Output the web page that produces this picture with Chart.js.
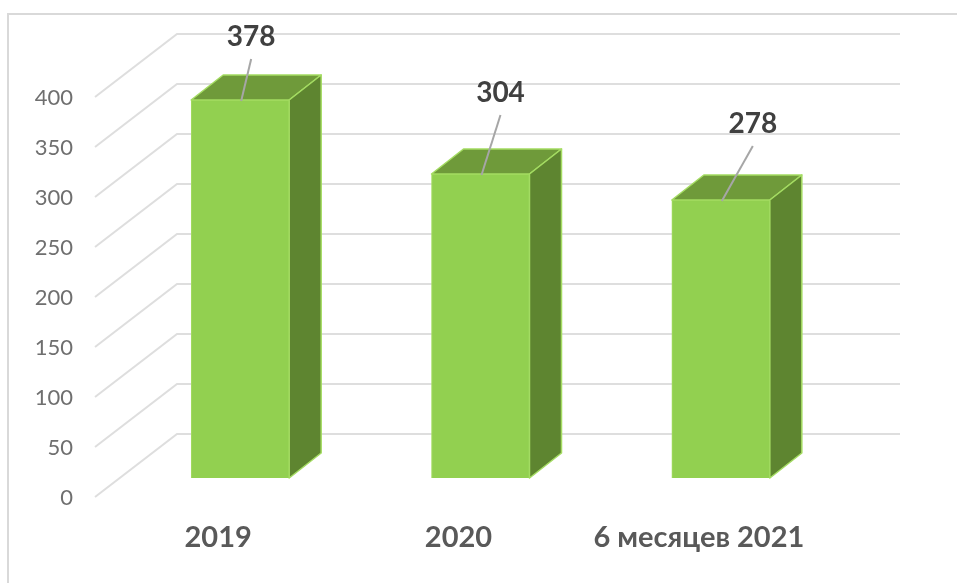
<!DOCTYPE html>
<html>
<head>
<meta charset="utf-8">
<style>
    html, body { margin: 0; padding: 0; background: #fff; }
    canvas { display: block; }
</style>
<script src="https://cdn.jsdelivr.net/npm/chart.js@4"></script>
</head>
<body>
<canvas id="grafico" width="957" height="583"></canvas>
<script>
const categorias = ['2019', '2020', '6 месяцев 2021'];
const valores = [378, 304, 278];
const ticksY = [0, 50, 100, 150, 200, 250, 300, 350, 400];

// Profundidad del falso 3D
const barDepth = { x: 32, y: -25 };
const wallBack = { x: 57, y: -44 };
const wallFront = { x: -25, y: 19 };
const wallRight = 900;
// Posicion de cada etiqueta respecto al centro de la cara superior de la barra
const labelShift = [[11, -63], [20, -81], [32, -76]];

const plugin3d = {
    id: 'plugin3d',
    beforeDraw(chart) {
        const ctx = chart.ctx;
        ctx.save();
        ctx.fillStyle = '#fff';
        ctx.fillRect(0, 0, chart.width, chart.height);
        // Marco
        ctx.strokeStyle = '#d9d9d9';
        ctx.lineWidth = 2;
        ctx.beginPath();
        ctx.moveTo(8, chart.height);
        ctx.lineTo(8, 14);
        ctx.lineTo(chart.width, 14);
        ctx.stroke();
        ctx.restore();
    },
    beforeDatasetsDraw(chart) {
        const ctx = chart.ctx;
        const y = chart.scales.y;
        const left = chart.chartArea.left;
        ctx.save();
        // Lineas de la pared
        ctx.strokeStyle = '#dedede';
        ctx.lineWidth = 2;
        ticksY.forEach(v => {
            const py = y.getPixelForValue(v);
            ctx.beginPath();
            ctx.moveTo(left + wallFront.x, py + wallFront.y);
            ctx.lineTo(left + wallBack.x, py + wallBack.y);
            ctx.lineTo(wallRight, py + wallBack.y);
            ctx.stroke();
        });
        // Caras superior y lateral
        chart.getDatasetMeta(0).data.forEach(bar => {
            const l = bar.x - bar.width / 2;
            const r = bar.x + bar.width / 2;
            ctx.lineWidth = 1.5;
            ctx.strokeStyle = '#a4dc62';
            ctx.lineJoin = 'round';

            ctx.fillStyle = '#6f9a3a';
            ctx.beginPath();
            ctx.moveTo(l, bar.y);
            ctx.lineTo(l + barDepth.x, bar.y + barDepth.y);
            ctx.lineTo(r + barDepth.x, bar.y + barDepth.y);
            ctx.lineTo(r, bar.y);
            ctx.closePath();
            ctx.fill();
            ctx.stroke();

            ctx.fillStyle = '#5e8530';
            ctx.beginPath();
            ctx.moveTo(r, bar.y);
            ctx.lineTo(r + barDepth.x, bar.y + barDepth.y);
            ctx.lineTo(r + barDepth.x, bar.base + barDepth.y);
            ctx.lineTo(r, bar.base);
            ctx.closePath();
            ctx.fill();
            ctx.stroke();
        });
        ctx.restore();
    },
    afterDatasetsDraw(chart) {
        const ctx = chart.ctx;
        ctx.save();
        chart.getDatasetMeta(0).data.forEach((bar, i) => {
            const tx = bar.x + labelShift[i][0];
            const ty = bar.y + labelShift[i][1];
            // Linea guia
            ctx.strokeStyle = '#a6a6a6';
            ctx.lineWidth = 2;
            ctx.beginPath();
            ctx.moveTo(bar.x + 1, bar.y + 1);
            ctx.lineTo(tx, ty + 22);
            ctx.stroke();

            ctx.fillStyle = '#404040';
            ctx.font = 'bold 28px Lato';
            ctx.textAlign = 'center';
            ctx.textBaseline = 'middle';
            ctx.fillText(String(valores[i]), tx, ty);
        });
        ctx.restore();
    }
};

new Chart(document.getElementById('grafico'), {
    type: 'bar',
    data: {
        labels: categorias,
        datasets: [{
            data: valores,
            backgroundColor: '#92d050',
            borderColor: '#a4dc62',
            borderWidth: 1,
            barThickness: 98
        }]
    },
    options: {
        responsive: false,
        animation: false,
        layout: { padding: { top: 78, right: 116, left: 0, bottom: 0 } },
        plugins: {
            legend: { display: false },
            tooltip: { enabled: false }
        },
        scales: {
            x: {
                grid: { display: false, drawTicks: false },
                border: { display: false },
                afterFit(scale) { scale.height = 105; },
                ticks: {
                    color: '#595959',
                    font: { family: 'Lato', size: 29, weight: 'bold' },
                    padding: 42,
                    labelOffset: -22,
                    maxRotation: 0,
                    autoSkip: false
                }
            },
            y: {
                min: 0,
                max: 400,
                grid: { display: false, drawTicks: false },
                border: { display: false },
                afterFit(scale) { scale.width = 120; },
                ticks: {
                    stepSize: 50,
                    color: '#6f6f6f',
                    font: { family: 'Lato', size: 22 },
                    padding: 47,
                    labelOffset: 20
                }
            }
        }
    },
    plugins: [plugin3d]
});
</script>
</body>
</html>
